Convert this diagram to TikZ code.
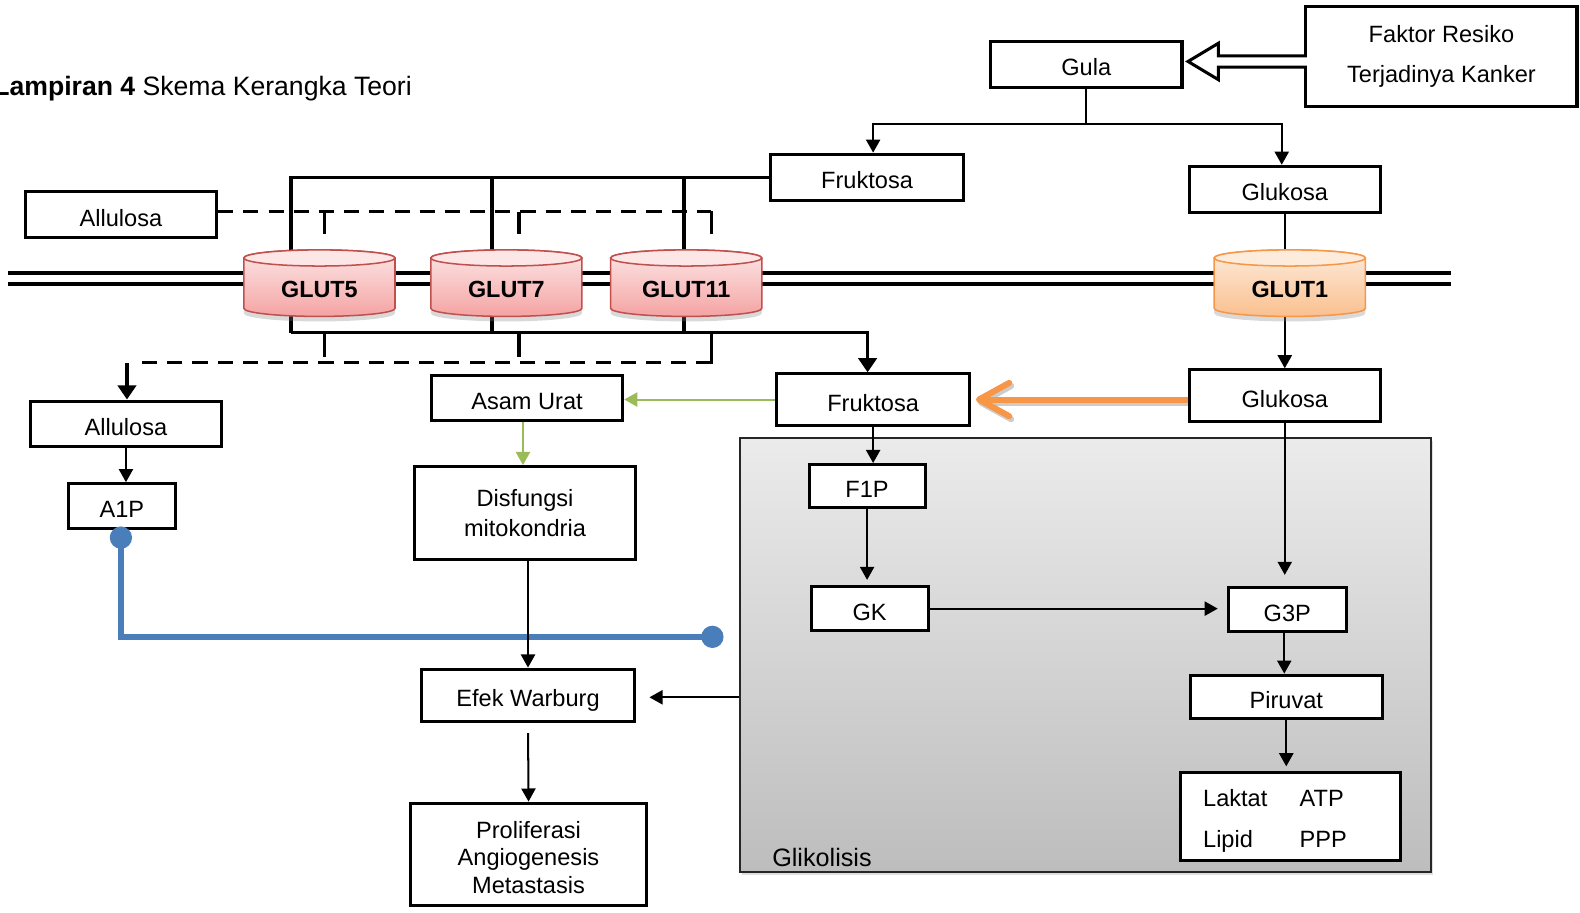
\documentclass[tikz,border=0pt]{standalone}
\usepackage{fontspec}
\setmainfont{Liberation Sans}
\usetikzlibrary{arrows.meta,shadows,calc}
\definecolor{cylred}{HTML}{C0504D}
\definecolor{pinktop}{HTML}{FCE6E6}
\definecolor{pinkbot}{HTML}{F5A3A3}
\definecolor{orgline}{HTML}{F79646}
\definecolor{orgtop}{HTML}{FDEBDC}
\definecolor{orgbot}{HTML}{FAC08F}
\definecolor{blueln}{HTML}{4A7EBB}
\definecolor{greenln}{HTML}{9BBB59}
\definecolor{gliktop}{HTML}{EBEBEB}
\definecolor{glikbot}{HTML}{BDBDBD}

\newcommand{\mycyl}[4]{%
  \path[drop shadow={opacity=0.3,shadow xshift=0pt,shadow yshift=-2.5pt}, #4body]
    ({#2-75},256) -- ({#2-75},306)
    arc[start angle=180,end angle=360,x radius=37.5pt,y radius=4pt]
    -- ({#2+75},256)
    arc[start angle=0,end angle=180,x radius=37.5pt,y radius=4pt] -- cycle;
  \path[#4cap] (#2,256) ellipse[x radius=37.5pt,y radius=4pt];
  \node[glutlabel] (#1) at (#2,287) {#3};
}

\begin{document}
\begin{tikzpicture}[x=0.5pt,y=-0.5pt,
  box/.style={draw, line width=1.5pt, fill=white, inner sep=0pt,
    font=\fontsize{11.7}{14}\selectfont},
  sbox/.style={box, text height=11.4pt, text depth=0pt},
  arr/.style={line width=1pt, -{Triangle[length=6.5pt,width=7pt]}},
  greenarr/.style={greenln, line width=1pt, -{Triangle[length=6.5pt,width=7pt]}},
  thickln/.style={line width=1.75pt, line join=miter},
  thickarr/.style={line width=1.75pt, line join=miter, -{Triangle[length=7pt,width=9pt]}},
  dashln/.style={line width=1.5pt, dash pattern=on 7.5pt off 5pt},
  tickln/.style={line width=1.75pt},
  memb/.style={line width=2pt},
  pinkbody/.style={draw=cylred, line width=0.75pt, top color=pinktop, bottom color=pinkbot},
  pinkcap/.style={draw=cylred, line width=0.75pt, fill=pinktop},
  orangebody/.style={draw=orgline, line width=0.75pt, top color=orgtop, bottom color=orgbot},
  orangecap/.style={draw=orgline, line width=0.75pt, fill=orgtop},
  glutlabel/.style={inner sep=0pt, font=\fontsize{11.6}{14}\selectfont\bfseries},
  glikbox/.style={draw=black!85, line width=1pt, top color=gliktop, bottom color=glikbot,
    drop shadow={opacity=0.25,shadow xshift=1pt,shadow yshift=-1.5pt}},
]
\useasboundingbox (0,0) rectangle (1568,906);

% title
\node[anchor=base west, inner sep=0pt, font=\fontsize{13.2}{16}\selectfont] (title) at (-7,95)
  {\textbf{Lampiran 4} Skema Kerangka Teori};

% membrane
\draw[memb] (8,271) -- (1440,271);
\draw[memb] (8,282) -- (1440,282);

% glikolisis region
\node[glikbox, minimum width=343pt, minimum height=215pt] (glik) at (1077,650) {};
\node[anchor=base west, inner sep=0pt, font=\fontsize{12.5}{15}\selectfont] (gliklabel) at (766,860) {Glikolisis};

% boxes
\node[box, minimum width=134.5pt, minimum height=50pt, align=center,
  font=\fontsize{11.7}{20}\selectfont] (faktor) at (1430.5,56) {Faktor Resiko\\Terjadinya Kanker};
\node[sbox, minimum width=95pt, minimum height=23pt] (gula) at (1078,64) {Gula};
\node[sbox, minimum width=95.5pt, minimum height=23pt] (fru1) at (860.5,176) {Fruktosa};
\node[sbox, minimum width=95pt, minimum height=23pt] (glu1) at (1275,188) {Glukosa};
\node[sbox, minimum width=95pt, minimum height=23pt] (allu1) at (120,213) {Allulosa};
\node[sbox, minimum width=95pt, minimum height=22.5pt] (allu2) at (125,420.5) {Allulosa};
\node[sbox, minimum width=53pt, minimum height=22pt] (a1p) at (121,502) {A1P};
\node[sbox, minimum width=95pt, minimum height=22pt] (asam) at (523,395) {Asam Urat};
\node[box, minimum width=110pt, minimum height=46pt, align=center,
  font=\fontsize{11.7}{15}\selectfont] (disf) at (521,509) {Disfungsi\\mitokondria};
\node[sbox, minimum width=106pt, minimum height=26pt] (efek) at (524,690) {Efek Warburg};
\node[box, minimum width=117.5pt, minimum height=51pt, align=center,
  font=\fontsize{11.7}{13.5}\selectfont] (prol) at (524.5,848)
  {\rule{0pt}{11.5pt}Proliferasi\\Angiogenesis\\Metastasis};
\node[sbox, minimum width=95.5pt, minimum height=25.5pt] (fru2) at (866.5,396.5) {Fruktosa};
\node[sbox, minimum width=95pt, minimum height=25.5pt] (glu2) at (1275,392.5) {Glukosa};
\node[sbox, minimum width=57.5pt, minimum height=21.5pt] (f1p) at (860.5,482.5) {F1P};
\node[sbox, minimum width=58pt, minimum height=22pt] (gk) at (863,604) {GK};
\node[sbox, minimum width=58.5pt, minimum height=22pt] (g3p) at (1277.5,605) {G3P};
\node[sbox, minimum width=95.5pt, minimum height=21.5pt] (piru) at (1276.5,691.5) {Piruvat};
\node[box, text width=87pt, inner xsep=11pt, minimum height=43.5pt, align=left] (res) at (1281,810.5)
  {\begin{tabular}{@{}l@{\hspace{16pt}}l@{}}\rule{0pt}{14.3pt}Laktat & ATP\\[6.5pt] Lipid & PPP\end{tabular}};

% hollow arrow Faktor -> Gula
\draw[line width=1.5pt, fill=white, line join=miter]
  (1297,55.5) -- (1209,55.5) -- (1209,43) -- (1179,61) -- (1209,79) -- (1209,66.5) -- (1297,66.5);

% Gula split
\draw[arr] (gula.south) -- ++(0,35) -| ($(fru1.north)+(6,0)$);
\draw[arr] (gula.south) -- ++(0,35) -| ($(glu1.north)+(-3,0)$);

% top bracket from Fruktosa
\draw[thickln] (fru1.west) -- (289,176) -- (289,330);
\draw[thickln] (488,176) -- (488,330);
\draw[thickln] (679,176) -- (679,330);
\draw[thickarr] (289,330) -- (861,330) -- (861,330 |- fru2.north);

% allulosa dashed
\draw[dashln] (allu1.east |- 706,210) -- (706,210);
\draw[tickln] (706,209.2) -- (706,232);
\draw[tickln] (322,210) -- (322,232);
\draw[tickln] (515,210) -- (515,232);
\draw[tickln] (322,330) -- (322,354);
\draw[tickln] (515,330) -- (515,354);
\draw[tickln] (706,330) -- (706,361);
\draw[dashln] (706,360) -- (134,360);
\draw[thickarr] (126,360) -- (126,360 |- allu2.north);

% glucose through GLUT1
\draw[arr] (glu1.south) -- (glu2.north);

% cylinders
\mycyl{glut5}{317}{GLUT5}{pink}
\mycyl{glut7}{502.5}{GLUT7}{pink}
\mycyl{glut11}{681}{GLUT11}{pink}
\mycyl{glut1}{1280}{GLUT1}{orange}

% orange arrow
\draw[black!40, opacity=0.5, line width=3pt, -{Straight Barb[length=15pt,width=16.5pt,round]}]
  ($(glu2.west |- fru2.east)+(0,3)$) -- ($(fru2.east)+(7,3)$);
\draw[orgline, line width=3pt, -{Straight Barb[length=15pt,width=16.5pt,round]}]
  (glu2.west |- fru2.east) -- ($(fru2.east)+(5,0)$);

% green arrows
\draw[greenarr] (fru2.west) -- (fru2.west -| asam.east);
\draw[greenarr] ($(asam.south)+(-4,0)$) -- ($(asam.south |- disf.north)+(-4,0)$);

% left chain
\draw[arr] (allu2.south) -- (allu2.south |- a1p.north);
\coordinate (bluend) at (718,632);
\draw[blueln, line width=3pt, line join=miter, {Circle[length=11pt]}-{Circle[length=11pt]}]
  ($(a1p.south)+(-1,-3)$) -- (120,632) -- (bluend);
\draw[arr] (efek.north |- disf.south) -- (efek.north);
\draw[arr, shorten >=6.5pt] ($(glik.west |- efek.east)+(0,2)$) -- ($(efek.east)+(0,2)$);
\draw[arr, shorten <=5pt] (efek.south) -- (prol.north);

% glycolysis internals
\draw[arr] (fru2.south) -- (fru2.south |- f1p.north);
\draw[arr, shorten >=2.5pt] (f1p.south) -- (f1p.south |- gk.north);
\draw[arr, shorten >=4.5pt] (gk.east) -- (gk.east -| g3p.west);
\draw[arr, shorten >=5.5pt] (glu2.south) -- (glu2.south |- g3p.north);
\draw[arr] ($(g3p.south)+(-3,0)$) -- ($(g3p.south |- piru.north)+(-3,0)$);
\draw[arr, shorten >=2.5pt] (piru.south) -- (piru.south |- res.north);
\end{tikzpicture}
\end{document}
